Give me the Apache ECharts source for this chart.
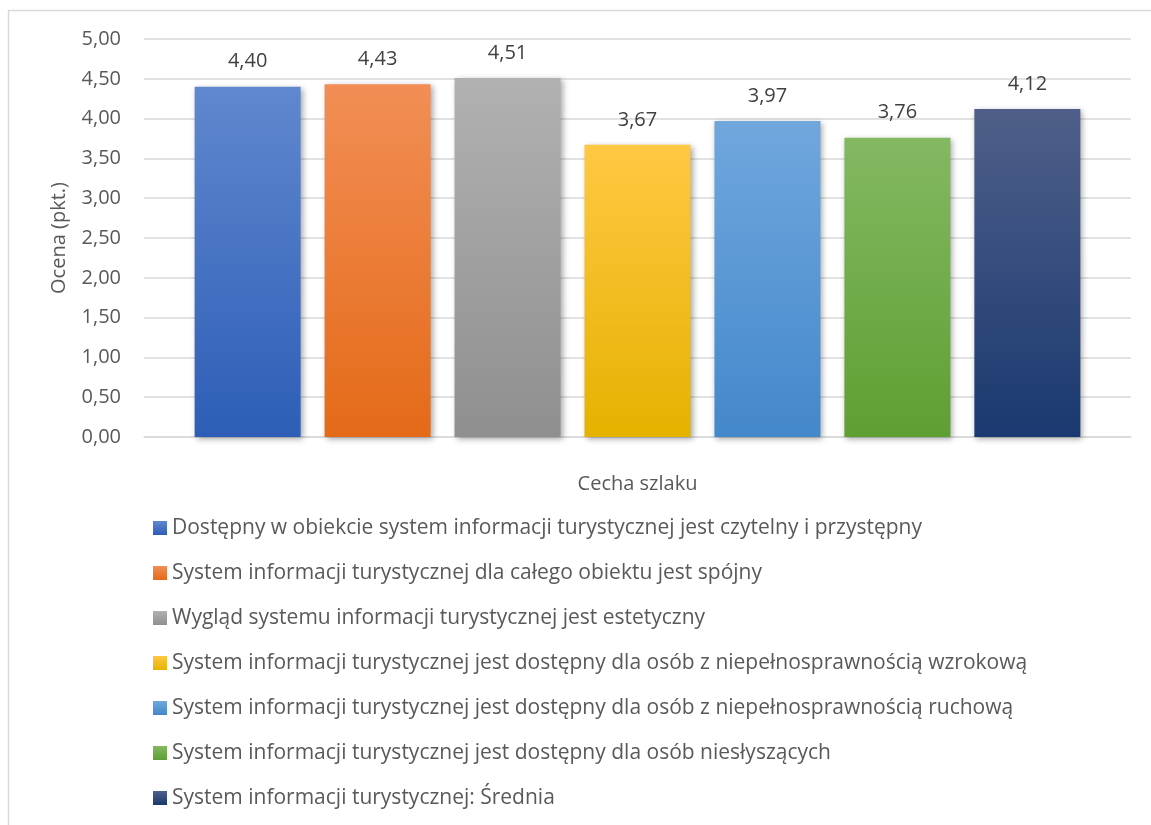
<!DOCTYPE html>
<html>
<head>
<meta charset="utf-8">
<script src="https://cdn.jsdelivr.net/npm/echarts@6/dist/echarts.min.js"></script>
<style>
  html, body { margin: 0; padding: 0; background: #ffffff; }
  #chart { width: 1151px; height: 825px; }
</style>
</head>
<body>
<div id="chart"></div>
<script>
// Oceny cech szlaku (pkt.)
const seriesNames = [
  'Dostępny w obiekcie system informacji turystycznej jest czytelny i przystępny',
  'System informacji turystycznej dla całego obiektu jest spójny',
  'Wygląd systemu informacji turystycznej jest estetyczny',
  'System informacji turystycznej jest dostępny dla osób z niepełnosprawnością wzrokową',
  'System informacji turystycznej jest dostępny dla osób z niepełnosprawnością ruchową',
  'System informacji turystycznej jest dostępny dla osób niesłyszących',
  'System informacji turystycznej: Średnia'
];
const values = [4.40, 4.43, 4.51, 3.67, 3.97, 3.76, 4.12];
const categories = [''];
const xAxisTitle = 'Cecha szlaku';
const yAxisTitle = 'Ocena (pkt.)';
const yMin = 0;
const yMax = 5;
const yStep = 0.5;

// top / bottom gradient stops per series
const topColors = ['#6088cf', '#f28e55', '#b1b1b1', '#ffc843', '#70a7dd', '#84b862', '#4f5f89'];
const bottomColors = ['#2d5db6', '#e46a18', '#8f8f8f', '#e5b200', '#4388cb', '#5e9f32', '#1a3970'];

const fmt = v => v.toFixed(2).replace('.', ',');
const FONT = 'Open Sans';
const TEXT = '#595959';

const chart = echarts.init(document.getElementById('chart'), null, { renderer: 'canvas' });

const series = seriesNames.map((name, i) => ({
  name: name,
  type: 'bar',
  data: [values[i]],
  barWidth: 106,
  barGap: '22.6%',
  itemStyle: {
    color: new echarts.graphic.LinearGradient(0, 0, 0, 1, [
      { offset: 0, color: topColors[i] },
      { offset: 1, color: bottomColors[i] }
    ]),
    shadowColor: 'rgba(0,0,0,0.35)',
    shadowBlur: 6,
    shadowOffsetX: 2,
    shadowOffsetY: 2
  },
  label: {
    show: true,
    position: 'top',
    distance: 15,
    formatter: p => fmt(p.value),
    color: '#404040',
    fontFamily: FONT,
    fontSize: 20
  }
}));

chart.setOption({
  animation: false,
  backgroundColor: '#ffffff',
  graphic: [{
    type: 'rect',
    shape: { x: 8.5, y: 10.5, width: 1300, height: 1000 },
    style: { fill: 'none', stroke: '#d9d9d9', lineWidth: 1.5 },
    silent: true,
    z: -10
  }],
  grid: { left: 144, right: 20, top: 39, bottom: 388, containLabel: false },
  legend: {
    orient: 'vertical',
    left: 148,
    top: 512,
    itemWidth: 14,
    itemHeight: 14,
    itemGap: 23,
    icon: 'rect',
    textStyle: { color: TEXT, fontFamily: FONT, fontSize: 21, lineHeight: 22 },
    data: seriesNames
  },
  xAxis: {
    type: 'category',
    data: categories,
    name: xAxisTitle,
    nameLocation: 'middle',
    nameGap: 37,
    nameTextStyle: { color: TEXT, fontFamily: FONT, fontSize: 20 },
    axisTick: { show: false },
    axisLabel: { show: false },
    axisLine: { lineStyle: { color: '#d9d9d9', width: 1.5 } }
  },
  yAxis: {
    type: 'value',
    min: yMin,
    max: yMax,
    interval: yStep,
    name: yAxisTitle,
    nameLocation: 'middle',
    nameGap: 75,
    nameTextStyle: { color: TEXT, fontFamily: FONT, fontSize: 20 },
    axisLine: { show: false },
    axisTick: { show: false },
    axisLabel: { color: TEXT, fontFamily: FONT, fontSize: 20, margin: 23, formatter: fmt },
    splitLine: { lineStyle: { color: '#d9d9d9', width: 1.5 } }
  },
  series: series
});
</script>
</body>
</html>
